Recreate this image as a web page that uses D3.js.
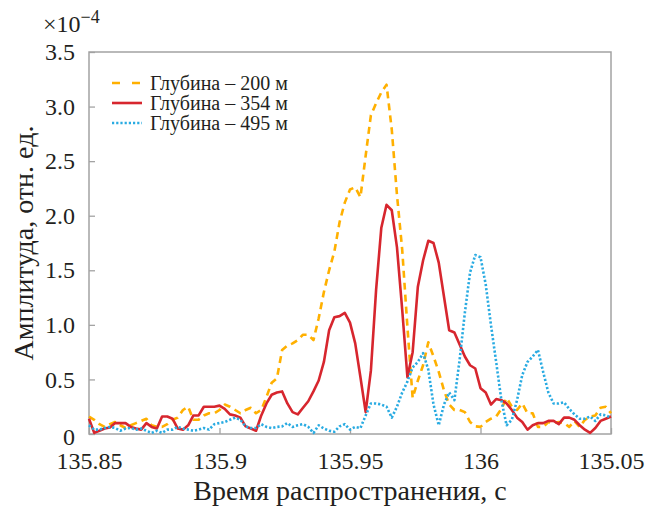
<!DOCTYPE html>
<html>
<head>
<meta charset="UTF-8">
<title>Амплитуда по глубинам</title>
<script src="https://d3js.org/d3.v7.min.js"></script>
<style>
  body { margin: 0; background: #fff; }
  text { font-family: "Liberation Serif", "Times New Roman", serif; fill: #231f20; }
</style>
</head>
<body>
<div id="chart"></div>
<script>
// sample times, s
var times = [
  135.850, 135.852, 135.854, 135.856, 135.858, 135.860, 135.862, 135.864, 135.866, 135.868,
  135.870, 135.872, 135.874, 135.876, 135.878, 135.880, 135.882, 135.884, 135.886, 135.888,
  135.890, 135.892, 135.894, 135.896, 135.898, 135.900, 135.902, 135.904, 135.906, 135.908,
  135.910, 135.912, 135.914, 135.916, 135.918, 135.920, 135.922, 135.924, 135.926, 135.928,
  135.930, 135.932, 135.934, 135.936, 135.938, 135.940, 135.942, 135.944, 135.946, 135.948,
  135.950, 135.952, 135.954, 135.956, 135.958, 135.960, 135.962, 135.964, 135.966, 135.968,
  135.970, 135.972, 135.974, 135.976, 135.978, 135.980, 135.982, 135.984, 135.986, 135.988,
  135.990, 135.992, 135.994, 135.996, 135.998, 136.000, 136.002, 136.004, 136.006, 136.008,
  136.010, 136.012, 136.014, 136.016, 136.018, 136.020, 136.022, 136.024, 136.026, 136.028,
  136.030, 136.032, 136.034, 136.036, 136.038, 136.040, 136.042, 136.044, 136.046, 136.048,
  136.050
];

// amplitudes, x1e-4
var depth200 = [
  0.16, 0.13, 0.09, 0.065, 0.09, 0.11, 0.08, 0.055, 0.08, 0.10,
  0.12, 0.14, 0.08, 0.065, 0.065, 0.09, 0.13, 0.15, 0.22, 0.25,
  0.13, 0.13, 0.17, 0.19, 0.19, 0.22, 0.27, 0.25, 0.22, 0.19,
  0.22, 0.24, 0.19, 0.22, 0.34, 0.47, 0.51, 0.77, 0.81, 0.83,
  0.86, 0.91, 0.91, 0.86, 1.06, 1.30, 1.50, 1.67, 1.94, 2.12,
  2.24, 2.26, 2.17, 2.55, 2.92, 3.03, 3.13, 3.20, 2.79, 2.19,
  1.69, 0.98, 0.33, 0.49, 0.63, 0.84, 0.71, 0.57, 0.40, 0.27,
  0.22, 0.22, 0.20, 0.11, 0.07, 0.065, 0.11, 0.14, 0.16, 0.23,
  0.33, 0.25, 0.22, 0.28, 0.19, 0.19, 0.065, 0.065, 0.11, 0.10,
  0.11, 0.10, 0.065, 0.12, 0.065, 0.13, 0.16, 0.17, 0.24, 0.25,
  0.19
];

var depth354 = [
  0.14, 0.01, 0.03, 0.05, 0.06, 0.10, 0.10, 0.10, 0.065, 0.05,
  0.04, 0.10, 0.065, 0.05, 0.16, 0.16, 0.14, 0.05, 0.04, 0.08,
  0.17, 0.17, 0.25, 0.25, 0.25, 0.26, 0.23, 0.18, 0.17, 0.15,
  0.07, 0.05, 0.03, 0.17, 0.28, 0.36, 0.38, 0.39, 0.28, 0.20,
  0.18, 0.24, 0.30, 0.39, 0.49, 0.66, 0.95, 1.07, 1.08, 1.11,
  1.02, 0.83, 0.52, 0.20, 0.58, 1.32, 1.89, 2.10, 2.05, 1.71,
  1.14, 0.52, 0.75, 1.35, 1.59, 1.77, 1.75, 1.57, 1.26, 0.95,
  0.93, 0.82, 0.71, 0.63, 0.60, 0.42, 0.38, 0.27, 0.32, 0.31,
  0.28, 0.22, 0.15, 0.11, 0.04, 0.08, 0.10, 0.10, 0.12, 0.12,
  0.09, 0.15, 0.15, 0.13, 0.08, 0.04, 0.01, 0.055, 0.12, 0.14,
  0.16
];

var depth495 = [
  0.08, 0.04, 0.04, 0.055, 0.065, 0.055, 0.03, 0.05, 0.055, 0.04,
  0.05, 0.03, 0.01, 0.03, 0.01, 0.04, 0.04, 0.065, 0.05, 0.04,
  0.03, 0.04, 0.055, 0.04, 0.09, 0.10, 0.11, 0.13, 0.15, 0.13,
  0.07, 0.055, 0.055, 0.09, 0.065, 0.055, 0.065, 0.07, 0.10, 0.065,
  0.08, 0.09, 0.065, 0.01, 0.08, 0.05, 0.03, 0.02, 0.07, 0.09,
  0.04, 0.065, 0.055, 0.17, 0.28, 0.28, 0.27, 0.25, 0.15, 0.25,
  0.38, 0.48, 0.61, 0.66, 0.74, 0.59, 0.27, 0.08, 0.27, 0.38,
  0.31, 0.68, 1.11, 1.48, 1.64, 1.62, 1.37, 1.00, 0.66, 0.31,
  0.08, 0.13, 0.31, 0.54, 0.66, 0.71, 0.77, 0.57, 0.38, 0.28,
  0.28, 0.29, 0.23, 0.18, 0.14, 0.14, 0.16, 0.12, 0.18, 0.17,
  0.15
];

var seriesNames = ["Глубина – 200 м", "Глубина – 354 м", "Глубина – 495 м"];
var xTicks = [135.85, 135.9, 135.95, 136, 136.05];
var xTickLabels = ["135.85", "135.9", "135.95", "136", "135.05"];
var yTicks = [0, 0.5, 1, 1.5, 2, 2.5, 3, 3.5];
var yTickLabels = ["0", "0.5", "1.0", "1.5", "2.0", "2.5", "3.0", "3.5"];

var width = 659, height = 508;
var plotLeft = 89, plotRight = 611, plotTop = 52, plotBottom = 434;

var svg = d3.select("#chart").append("svg")
  .attr("width", width)
  .attr("height", height);

var xScale = d3.scaleLinear().domain([135.85, 136.05]).range([plotLeft, plotRight]);
var yScale = d3.scaleLinear().domain([0, 3.5]).range([plotBottom, plotTop]);

var axisColor = "#a3a3a3";

// x axis, ticks pointing in
var xAxis = d3.axisBottom(xScale)
  .tickValues(xTicks)
  .tickFormat(function(d, i) { return xTickLabels[i]; })
  .tickSizeInner(-6).tickSizeOuter(0).tickPadding(18);

var gx = svg.append("g")
  .attr("transform", "translate(0," + plotBottom + ")")
  .call(xAxis);
gx.select(".domain").remove();
gx.selectAll("line").attr("stroke", axisColor).attr("stroke-width", 1.3);
gx.selectAll("text").attr("font-size", 24).attr("fill", "#231f20")
  .style("font-family", "'Liberation Serif', serif");

// y axis
var yAxis = d3.axisLeft(yScale)
  .tickValues(yTicks)
  .tickFormat(function(d, i) { return yTickLabels[i]; })
  .tickSizeInner(-6).tickSizeOuter(0).tickPadding(14);

var gy = svg.append("g")
  .attr("transform", "translate(" + plotLeft + ",0)")
  .call(yAxis);
gy.select(".domain").remove();
gy.selectAll("line").attr("stroke", axisColor).attr("stroke-width", 1.3);
gy.selectAll("text").attr("font-size", 24).attr("fill", "#231f20")
  .style("font-family", "'Liberation Serif', serif");
gy.selectAll(".tick").filter(function(d) { return d === 0; })
  .select("text").attr("dy", "0.45em");

// frame
svg.append("rect")
  .attr("x", plotLeft).attr("y", plotTop)
  .attr("width", plotRight - plotLeft).attr("height", plotBottom - plotTop)
  .attr("fill", "none")
  .attr("stroke", axisColor)
  .attr("stroke-width", 1.5);

// exponent
var expo = svg.append("text")
  .attr("x", 43).attr("y", 32)
  .attr("font-size", 24)
  .text("×10");
expo.append("tspan")
  .attr("dy", -9)
  .attr("font-size", 18)
  .text("−4");

// axis titles
svg.append("text")
  .attr("x", (plotLeft + plotRight) / 2).attr("y", 500)
  .attr("text-anchor", "middle")
  .attr("font-size", 28)
  .text("Время распространения, с");

svg.append("text")
  .attr("transform", "translate(33," + ((plotTop + plotBottom) / 2) + ") rotate(-90)")
  .attr("text-anchor", "middle")
  .attr("font-size", 28)
  .text("Амплитуда, отн. ед.");

// lines
var series = [
  { name: seriesNames[0], values: depth200, color: "#ffb000", dash: "7,5" },
  { name: seriesNames[1], values: depth354, color: "#d7262e", dash: null },
  { name: seriesNames[2], values: depth495, color: "#29abe2", dash: "2.2,2" }
];

var line = d3.line()
  .x(function(d, i) { return xScale(times[i]); })
  .y(function(d) { return yScale(d); })
  .curve(d3.curveLinear);

series.forEach(function(s) {
  svg.append("path")
    .datum(s.values)
    .attr("d", line)
    .attr("fill", "none")
    .attr("stroke", s.color)
    .attr("stroke-width", 2.6)
    .attr("stroke-linejoin", "round")
    .attr("stroke-dasharray", s.dash);
});

// legend
var legend = svg.append("g").attr("transform", "translate(112,83)");
series.forEach(function(s, i) {
  var row = legend.append("g").attr("transform", "translate(0," + (i * 20) + ")");
  row.append("line")
    .attr("x1", 0).attr("x2", 30)
    .attr("y1", 0).attr("y2", 0)
    .attr("stroke", s.color)
    .attr("stroke-width", 2.6)
    .attr("stroke-dasharray", i === 0 ? "8,12" : s.dash);
  row.append("text")
    .attr("x", 38).attr("y", 7)
    .attr("font-size", 20)
    .text(s.name);
});
</script>
</body>
</html>
